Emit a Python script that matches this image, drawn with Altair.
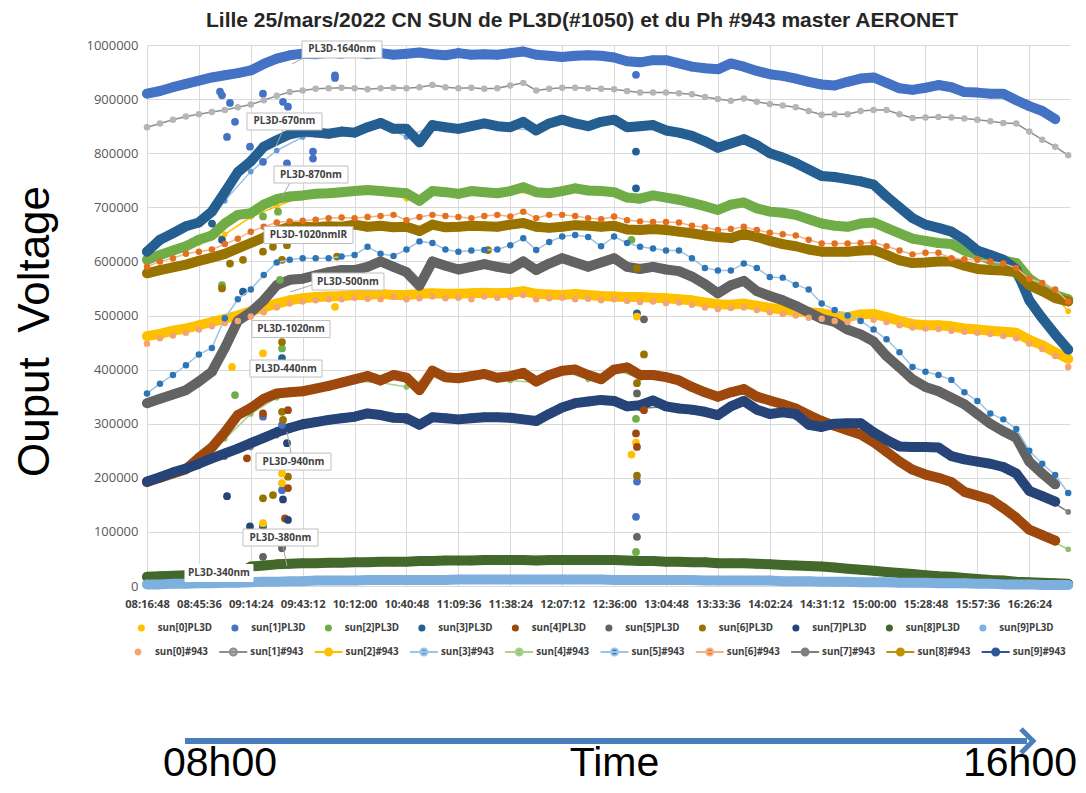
import altair as alt
import pandas as pd

FONT = "Open Sans"
FONT_BIG = "Liberation Sans"

TITLE = "Lille 25/mars/2022 CN SUN de PL3D(#1050) et du Ph #943 master AERONET"
Y_TITLE = "Ouput\u00a0\u00a0Voltage"

X_TICKS = ["08:16:48", "08:45:36", "09:14:24", "09:43:12", "10:12:00", "10:40:48",
           "11:09:36", "11:38:24", "12:07:12", "12:36:00", "13:04:48", "13:33:36",
           "14:02:24", "14:31:12", "15:00:00", "15:28:48", "15:57:36", "16:26:24"]
Y_TICKS = [0, 100000, 200000, 300000, 400000, 500000, 600000, 700000, 800000, 900000, 1000000]

TIMES = ["08:16:48", "08:24:00", "08:31:12", "08:38:24", "08:45:36", "08:52:48", "09:00:00", "09:07:12",
         "09:14:24", "09:21:36", "09:28:48", "09:36:00", "09:43:12", "09:50:24", "09:57:36", "10:04:48",
         "10:12:00", "10:19:12", "10:26:24", "10:33:36", "10:40:48", "10:48:00", "10:55:12", "11:02:24",
         "11:09:36", "11:16:48", "11:24:00", "11:31:12", "11:38:24", "11:45:36", "11:52:48", "12:00:00",
         "12:07:12", "12:14:24", "12:21:36", "12:28:48", "12:36:00", "12:43:12", "12:50:24", "12:57:36",
         "13:04:48", "13:12:00", "13:19:12", "13:26:24", "13:33:36", "13:40:48", "13:48:00", "13:55:12",
         "14:02:24", "14:09:36", "14:16:48", "14:24:00", "14:31:12", "14:38:24", "14:45:36", "14:52:48",
         "15:00:00", "15:07:12", "15:14:24", "15:21:36", "15:28:48", "15:36:00", "15:43:12", "15:50:24",
         "15:57:36", "16:04:48", "16:12:00", "16:19:12", "16:26:24", "16:33:36", "16:40:48", "16:48:00"]
TIMES_HALF = TIMES[0::2] + [TIMES[-1]]

PL3D_NAMES = ["sun[0]PL3D", "sun[1]PL3D", "sun[2]PL3D", "sun[3]PL3D", "sun[4]PL3D",
              "sun[5]PL3D", "sun[6]PL3D", "sun[7]PL3D", "sun[8]PL3D", "sun[9]PL3D"]
PL3D_COLORS = ["#FFC000", "#4472C4", "#70AD47", "#255E91", "#9E480E",
               "#636363", "#997300", "#264478", "#43682B", "#7EB0DF"]
S943_NAMES = ["sun[0]#943", "sun[1]#943", "sun[2]#943", "sun[3]#943", "sun[4]#943",
              "sun[5]#943", "sun[6]#943", "sun[7]#943", "sun[8]#943", "sun[9]#943"]
S943_FILL = ["#F4A46E", "#B5B5B5", "#FFC000", "#5B9BD5", "#8CC168",
             "#2E75B6", "#E2701F", "#7F7F7F", "#BF9000", "#2F5597"]
S943_STROKE = ["transparent", "#8E8E8E", "#FFC000", "#9DC3E6", "#A9D18E",
               "#9DC3E6", "#F4B183", "#7F7F7F", "#BF9000", "#2F5597"]

# values in thousands (Output voltage / 1000)
PL3D_0 = [462, 466, 472, 476, 482, 488, 494, 500, 508, 515, 522, 528, 532, 534, 535, 536,
          538, 538, 540, 538, 538, 540, 541, 540, 540, 541, 542, 541, 542, 545, 540, 539,
          538, 540, 538, 536, 535, 534, 534, 533, 532, 530, 528, 524, 521, 520, 522, 518,
          514, 511, 508, 506, 504, 500, 497, 502, 503, 497, 490, 484, 482, 482, 480, 476,
          474, 472, 470, 468, 455, 445, 432, 420]
PL3D_1 = [910, 915, 922, 928, 934, 940, 944, 948, 953, 965, 975, 981, 984, 983, 986, 984,
          987, 983, 985, 982, 984, 986, 983, 981, 985, 982, 983, 982, 985, 988, 982, 980,
          978, 980, 981, 980, 977, 970, 968, 972, 972, 966, 960, 957, 955, 966, 960, 952,
          946, 943, 938, 932, 927, 925, 932, 938, 940, 930, 920, 917, 921, 926, 922, 913,
          912, 910, 910, 898, 887, 878, 863, None]
PL3D_2 = [603, 612, 620, 628, 640, 648, 670, 686, 689, 705, 715, 720, 722, 725, 726, 728,
          730, 732, 730, 728, 726, 712, 730, 728, 725, 730, 728, 726, 730, 737, 728, 726,
          730, 735, 731, 730, 728, 718, 716, 722, 718, 714, 708, 702, 695, 705, 709, 698,
          692, 690, 686, 678, 670, 666, 664, 670, 672, 662, 652, 642, 638, 634, 632, 620,
          612, 603, 602, 597, 568, 552, 538, 530]
PL3D_3 = [618, 640, 652, 665, 672, 692, 728, 765, 785, 812, 824, 835, 840, 838, 836, 840,
          838, 848, 856, 845, 845, 820, 852, 848, 845, 850, 855, 850, 848, 858, 842, 855,
          862, 855, 850, 858, 862, 848, 850, 852, 842, 838, 832, 822, 810, 818, 826, 815,
          800, 792, 782, 770, 758, 756, 752, 748, 742, 720, 700, 680, 668, 662, 655, 640,
          620, 612, 603, 585, 528, 495, 465, 437]
PL3D_4 = [192, 200, 208, 216, 237, 256, 284, 316, 329, 346, 356, 358, 360, 365, 370, 376,
          382, 388, 380, 390, 385, 362, 398, 386, 384, 388, 392, 385, 388, 394, 378, 390,
          398, 400, 390, 382, 400, 404, 390, 390, 386, 380, 368, 358, 350, 358, 364, 350,
          343, 336, 328, 316, 305, 296, 288, 280, 266, 248, 230, 215, 206, 200, 192, 174,
          167, 160, 144, 126, 104, 94, 84, None]
PL3D_5 = [338, 346, 354, 362, 378, 396, 440, 490, 506, 528, 556, 566, 568, 574, 580, 584,
          584, 590, 600, 590, 580, 555, 600, 592, 585, 590, 595, 590, 586, 600, 584, 596,
          606, 598, 590, 598, 606, 590, 586, 590, 585, 582, 572, 558, 541, 556, 564, 545,
          536, 528, 518, 506, 494, 488, 474, 465, 452, 425, 404, 382, 368, 360, 348, 336,
          318, 300, 286, 274, 230, 208, 188, None]
PL3D_6 = [578, 584, 589, 594, 601, 607, 614, 624, 634, 644, 656, 664, 664, 663, 665, 664,
          668, 664, 666, 663, 664, 656, 668, 663, 664, 666, 665, 664, 668, 671, 664, 662,
          664, 667, 666, 664, 666, 659, 658, 660, 658, 655, 652, 648, 645, 643, 651, 645,
          638, 632, 628, 622, 618, 618, 618, 620, 621, 612, 602, 597, 598, 600, 600, 592,
          586, 584, 583, 580, 556, 545, 532, 526]
PL3D_7 = [193, 201, 210, 217, 226, 236, 245, 254, 264, 274, 284, 292, 299, 303, 307, 310,
          313, 319, 316, 311, 310, 298, 312, 310, 308, 310, 312, 312, 311, 308, 305, 318,
          330, 338, 341, 344, 342, 332, 334, 343, 332, 328, 326, 322, 316, 332, 342, 326,
          318, 321, 318, 298, 294, 300, 301, 301, 284, 270, 258, 257, 257, 256, 240, 234,
          230, 226, 220, 208, 176, 166, 156, None]
PL3D_8 = [17, 18, 19, 20, 21, 22, 22, 23, 36, 38, 40, 41, 42, 42, 43, 43,
          44, 44, 45, 45, 45, 46, 46, 47, 47, 47, 48, 48, 48, 48, 47, 48,
          48, 48, 48, 48, 48, 47, 46, 46, 45, 45, 44, 44, 42, 42, 42, 41,
          40, 39, 38, 37, 36, 34, 32, 30, 28, 26, 24, 22, 20, 18, 17, 15,
          13, 11, 10, 8, 7, 6, 5, 4]
PL3D_9 = [3, 3, 4, 4, 5, 5, 6, 6, 7, 8, 8, 9, 9, 10, 10, 10,
          10, 11, 11, 11, 11, 11, 11, 11, 12, 12, 12, 12, 12, 12, 12, 12,
          12, 12, 12, 12, 11, 11, 11, 11, 11, 11, 11, 10, 10, 10, 10, 10,
          10, 9, 9, 9, 8, 8, 8, 7, 7, 7, 6, 6, 6, 5, 5, 5,
          4, 4, 3, 3, 3, 2, 2, 2]
PL3D_VALUES = [PL3D_0, PL3D_1, PL3D_2, PL3D_3, PL3D_4, PL3D_5, PL3D_6, PL3D_7, PL3D_8, PL3D_9]

# #943 series on the full time grid
S943_0 = [448, 458, 463, 468, 474, 480, 486, 490, 498, 506, 515, 522, 526, 528, 530, 530,
          533, 531, 530, 534, 530, 532, 535, 532, 533, 530, 535, 533, 534, 538, 530, 532,
          533, 530, 531, 528, 530, 527, 525, 526, 523, 524, 520, 515, 512, 514, 515, 510,
          506, 503, 500, 496, 494, 490, 488, 492, 492, 488, 482, 478, 476, 475, 472, 470,
          468, 466, 462, 458, 448, 438, 425, 405]
S943_1 = [848, 855, 862, 868, 872, 876, 880, 885, 890, 898, 906, 913, 916, 919, 920, 921,
          920, 918, 920, 921, 920, 922, 926, 922, 920, 921, 919, 920, 925, 930, 916, 919,
          921, 921, 920, 919, 918, 915, 912, 912, 912, 911, 909, 904, 900, 897, 901, 895,
          891, 888, 885, 878, 871, 872, 872, 878, 880, 880, 872, 865, 866, 867, 866, 864,
          862, 859, 856, 855, 840, 825, 812, 796]
S943_5 = [356, 374, 390, 408, 428, 440, 495, 530, 548, 575, 598, 603, 606, 606, 606, 609,
          612, 627, 614, 610, 622, 637, 634, 622, 618, 620, 621, 622, 630, 643, 621, 636,
          646, 649, 645, 628, 646, 634, 627, 624, 620, 620, 606, 588, 583, 583, 596, 588,
          571, 570, 557, 548, 522, 510, 500, 490, 474, 456, 432, 405, 396, 390, 381, 358,
          342, 319, 308, 290, 250, 226, 205, 172]
S943_6 = [590, 600, 606, 614, 618, 622, 632, 642, 655, 664, 672, 674, 675, 677, 680, 681,
          680, 682, 684, 686, 676, 682, 686, 684, 682, 680, 684, 686, 683, 692, 680, 686,
          686, 684, 680, 678, 683, 676, 674, 673, 673, 672, 666, 663, 658, 660, 664, 658,
          653, 650, 648, 640, 633, 633, 633, 634, 635, 628, 620, 613, 616, 616, 606, 604,
          603, 600, 596, 588, 568, 560, 548, 526]
# #943 series lying under the PL3D bands (every second grid time)
S943_2 = [605, 618, 634, 650, 682, 702, 720, 724, 728, 728, 716, 728, 724, 726, 728, 726, 728,
          730, 726, 714, 716, 706, 693, 706, 690, 684, 668, 662, 670, 650, 636, 630, 610, 600,
          566, 536, 508]
S943_3 = [612, 648, 668, 712, 766, 805, 830, 834, 836, 852, 830, 850, 844, 852, 846, 842, 858,
          848, 858, 848, 840, 830, 808, 824, 798, 780, 756, 750, 740, 698, 666, 652, 618, 600,
          525, 462, 436]
S943_4 = [188, 208, 232, 272, 318, 348, 356, 366, 378, 376, 368, 390, 382, 390, 380, 376, 398,
          382, 400, 384, 384, 368, 346, 360, 340, 326, 302, 284, 268, 228, 202, 188, 166, 146,
          102, 80, 68]
S943_7 = [190, 205, 222, 238, 256, 278, 295, 304, 312, 318, 304, 310, 304, 310, 310, 304, 328,
          338, 342, 328, 332, 322, 314, 336, 318, 312, 294, 298, 288, 260, 256, 244, 230, 220,
          178, 152, 137]
S943_8 = [19, 21, 23, 24, 38, 42, 44, 45, 46, 47, 47, 48, 49, 50, 50, 49, 50,
          50, 50, 48, 47, 46, 44, 44, 42, 40, 38, 34, 30, 26, 22, 19, 15, 12,
          9, 7, 5]
S943_9 = [1, 2, 3, 4, 5, 6, 7, 8, 8, 9, 9, 9, 10, 10, 10, 10, 10,
          10, 10, 9, 9, 9, 8, 8, 8, 7, 7, 6, 6, 5, 4, 4, 3, 2,
          2, 1, 1]

# stray points (tracking glitches), per PL3D series: times and values (thousands)
OUTLIERS = {
    "sun[1]PL3D": (["08:57:18", "08:58:25", "09:02:51", "09:05:38", "09:01:12", "09:13:57", "09:21:10",
                    "09:32:16", "09:35:02", "09:21:10", "09:34:29", "09:48:55", "09:48:55", "10:01:07",
                    "10:01:07", "09:21:10", "09:31:43", "09:31:43", "12:48:09", "12:48:42", "12:48:09"],
                   [914, 907, 893, 858, 830, 812, 910, 895, 886, 784, 781, 803, 790, 944, 939, 313, 298,
                    177, 945, 193, 128]),
    "sun[3]PL3D": (["08:52:52", "08:58:25", "09:10:04", "09:31:43", "09:21:10", "12:48:09", "12:48:09",
                    "12:48:42"],
                   [670, 640, 544, 421, 110, 803, 735, 504]),
    "sun[2]PL3D": (["09:21:10", "09:29:29", "08:58:25", "09:30:36", "09:05:38", "09:31:43", "09:31:43",
                    "12:45:39", "12:48:09", "12:48:09"],
                   [683, 692, 556, 566, 353, 439, 73, 640, 309, 63]),
    "sun[6]PL3D": (["08:58:25", "09:02:51", "09:10:04", "09:21:10", "09:26:43", "09:31:43", "09:34:29",
                    "10:02:14", "11:26:01", "09:21:10", "09:26:43", "09:31:43", "09:32:16", "09:35:02",
                    "09:31:43", "12:48:42", "12:52:35", "12:48:42", "12:48:42"],
                   [550, 596, 603, 618, 627, 603, 630, 609, 621, 162, 168, 322, 307, 202, 451, 587, 428,
                    204, 375]),
    "sun[0]PL3D": (["10:01:07", "09:03:58", "09:21:10", "09:31:43", "09:31:43", "09:21:10", "12:48:42",
                    "12:48:09", "12:45:39"],
                   [516, 405, 430, 208, 190, 116, 498, 265, 243]),
    "sun[4]PL3D": (["09:12:17", "09:21:10", "09:35:02", "09:35:02", "09:33:23", "12:48:09", "12:48:42",
                    "12:52:35"],
                   [236, 319, 325, 181, 125, 282, 257, 325]),
    "sun[7]PL3D": (["09:01:12", "09:13:57", "09:32:16", "09:35:02", "09:34:29"],
                   [166, 110, 160, 122, 264]),
    "sun[5]PL3D": (["09:21:10", "09:31:43", "12:52:35", "12:48:42", "12:48:42"],
                   [54, 70, 493, 356, 91]),
}

# callout labels (anchored in data coordinates)
ANN_LABELS = ["PL3D-1640nm", "PL3D-670nm", "PL3D-870nm", "PL3D-1020nmIR", "PL3D-500nm",
              "PL3D-1020nm", "PL3D-440nm", "PL3D-940nm", "PL3D-380nm", "PL3D-340nm"]
ANN_TIMES = ["10:05:00", "09:33:06", "09:47:48", "09:46:25", "10:08:20",
             "09:36:42", "09:33:56", "09:38:06", "09:30:53", "08:56:45"]
ANN_VALUES = [991700, 858600, 760600, 648800, 562800, 475000, 402000, 230000, 89600, 24000]
ANN_BOX_W = [80, 75, 74, 89, 72, 78, 72, 75, 75, 68]
ANN_BOX_STROKE = ["#BFBFBF"] * 9 + ["#FFFFFF"]

LEAD_T1 = ["09:44:28", "09:32:16", "09:36:09", "09:48:22", "09:36:42", "09:32:16"]
LEAD_V1 = [977800, 842900, 744900, 556400, 245800, 73900]
LEAD_T2 = ["09:37:16", "09:28:23", "09:31:43", "09:36:09", "09:34:29", "09:34:29"]
LEAD_V2 = [964900, 813300, 719000, 543400, 284700, 37000]


def secs(hms):
    h, m, s = hms.split(":")
    return int(h) * 3600 + int(m) * 60 + int(s)


def frame(names, lists, times):
    rows = []
    for name, vals in zip(names, lists):
        for hms, v in zip(times, vals):
            if v is not None:
                rows.append({"series": name, "t": secs(hms), "v": v * 1000})
    return pd.DataFrame(rows)


XS = alt.Scale(domain=[29808, 60540], nice=False, zero=False)
YS = alt.Scale(domain=[0, 1000000], nice=False)

X_AXIS = alt.Axis(values=[secs(t) for t in X_TICKS],
                  labelExpr="utcFormat(datum.value * 1000, '%H:%M:%S')",
                  grid=True, gridColor="#D9D9D9", domainColor="#D9D9D9", ticks=False,
                  labelFont=FONT, labelFontSize=11.2, labelFontWeight="bold", labelColor="#404040",
                  labelPadding=12, labelOverlap=False, labelFlush=False, title=None)
Y_AXIS = alt.Axis(values=Y_TICKS, format="d", grid=True, gridColor="#D9D9D9", domain=False,
                  ticks=False, labelFont=FONT, labelFontSize=13, labelColor="#595959",
                  labelPadding=9, title=Y_TITLE, titleFont=FONT_BIG, titleFontSize=44,
                  titleFontWeight="normal", titleColor="#000000", titleX=-99, titleY=286,
                  titleAngle=270, titleAlign="center", titleBaseline="alphabetic")

X = alt.X("t:Q", scale=XS, axis=X_AXIS)
Y = alt.Y("v:Q", scale=YS, axis=Y_AXIS)

LEG1 = alt.Legend(title=None, orient="none", legendX=-10.5, legendY=578, direction="horizontal",
                  columns=10, gridAlign="all", columnPadding=17.5, rowPadding=0, padding=0,
                  symbolType="circle", symbolSize=50, symbolStrokeWidth=0, symbolOpacity=1,
                  labelFont=FONT, labelFontSize=9.8, labelFontWeight="bold",
                  labelColor="#404040", labelOffset=11.4, labelLimit=200)
LEG2 = alt.Legend(title=None, orient="none", legendX=-24, legendY=591.7, direction="horizontal",
                  columns=10, gridAlign="all", columnPadding=7.3, rowPadding=0, padding=0,
                  symbolType="M-1,0L1,0M-0.25,0A0.25,0.25,0,1,0,0.25,0A0.25,0.25,0,1,0,-0.25,0",
                  symbolSize=784, symbolStrokeWidth=2, symbolOpacity=1,
                  labelFont=FONT, labelFontSize=9.8, labelFontWeight="bold",
                  labelColor="#404040", labelOffset=2, labelLimit=200)

C1 = alt.Color("series:N", scale=alt.Scale(domain=PL3D_NAMES, range=PL3D_COLORS), legend=LEG1)
F2 = alt.Fill("series:N", scale=alt.Scale(domain=S943_NAMES, range=S943_FILL), legend=LEG2)
S2 = alt.Stroke("series:N", scale=alt.Scale(domain=S943_NAMES, range=S943_STROKE), legend=LEG2)

layers = []

# #943 series hidden beneath the PL3D bands
hid = frame(["sun[2]#943", "sun[3]#943", "sun[4]#943", "sun[7]#943", "sun[8]#943", "sun[9]#943"],
            [S943_2, S943_3, S943_4, S943_7, S943_8, S943_9], TIMES_HALF)
layers.append(alt.Chart(hid).mark_line(strokeWidth=1.5).encode(x=X, y=Y, stroke=S2))
layers.append(alt.Chart(hid).mark_circle(size=32, opacity=1).encode(x=X, y=Y, fill=F2))

# PL3D bands
for name, vals in zip(PL3D_NAMES, PL3D_VALUES):
    d = frame([name], [vals], TIMES)
    layers.append(alt.Chart(d).mark_line(strokeWidth=10, strokeCap="round", strokeJoin="round")
                  .encode(x=X, y=Y, color=C1))
    layers.append(alt.Chart(d).mark_circle(size=90, opacity=1).encode(x=X, y=Y, color=C1))

# stray points
out_rows = []
for name, (ts, vs) in OUTLIERS.items():
    for hms, v in zip(ts, vs):
        out_rows.append({"series": name, "t": secs(hms), "v": v * 1000})
outliers = pd.DataFrame(out_rows)
layers.append(alt.Chart(outliers).mark_circle(size=60, opacity=1).encode(x=X, y=Y, color=C1))

# visible #943 series
vis_line = frame(["sun[1]#943", "sun[5]#943", "sun[6]#943"], [S943_1, S943_5, S943_6], TIMES)
layers.append(alt.Chart(vis_line).mark_line(strokeWidth=1.5).encode(x=X, y=Y, stroke=S2))
vis_dot = frame(["sun[0]#943", "sun[1]#943", "sun[5]#943", "sun[6]#943"],
                [S943_0, S943_1, S943_5, S943_6], TIMES)
layers.append(alt.Chart(vis_dot).mark_circle(size=42, opacity=1).encode(x=X, y=Y, fill=F2))

# callouts
lead = pd.DataFrame({"t": [secs(t) for t in LEAD_T1], "v": LEAD_V1,
                     "t2": [secs(t) for t in LEAD_T2], "v2": LEAD_V2})
layers.append(alt.Chart(lead).mark_rule(color="#A6A6A6", strokeWidth=1)
              .encode(x=X, y=Y, x2="t2:Q", y2="v2:Q"))
ann = pd.DataFrame({"label": ANN_LABELS, "t": [secs(t) for t in ANN_TIMES], "v": ANN_VALUES})
for i in range(len(ANN_LABELS)):
    w = ANN_BOX_W[i]
    h = 17.0 / w
    path = f"M-1,{-h:.4f}L1,{-h:.4f}L1,{h:.4f}L-1,{h:.4f}Z"
    layers.append(alt.Chart(ann.iloc[[i]]).mark_point(shape=path, size=w * w, filled=True,
                                                       fill="#FFFFFF", stroke=ANN_BOX_STROKE[i],
                                                       strokeWidth=1, opacity=1)
                  .encode(x=X, y=Y))
layers.append(alt.Chart(ann).mark_text(font=FONT, fontSize=10, fontWeight="bold", color="#404040")
              .encode(x=X, y=Y, text="label:N"))

# title and decorations outside the plot
one = pd.DataFrame({"k": [0]})
layers.append(alt.Chart(one).mark_text(text=TITLE, font=FONT_BIG, fontSize=21, fontWeight="bold",
                                       color="#262626", align="center", baseline="alphabetic")
              .encode(x=alt.value(435), y=alt.value(-17.6)))
layers.append(alt.Chart(one).mark_rule(color="#4A7EBB", strokeWidth=6)
              .encode(x=alt.value(38), x2=alt.value(880), y=alt.value(696)))
layers.append(alt.Chart(one).mark_point(shape="M-1,-1L0,0L-1,1", filled=False, color="#4A7EBB",
                                        strokeWidth=5, size=576, opacity=1)
              .encode(x=alt.value(886), y=alt.value(696)))
for txt, xpos, al in [("08h00", 73, "center"), ("Time", 467.5, "center"), ("16h00", 930, "right")]:
    layers.append(alt.Chart(one).mark_text(text=txt, font=FONT_BIG, fontSize=41, color="#000000",
                                           align=al, baseline="alphabetic")
                  .encode(x=alt.value(xpos), y=alt.value(730.5)))

chart = alt.layer(*layers).properties(
    width=923, height=541,
    padding={"left": 139, "top": 37, "right": 8, "bottom": 199},
    autosize=alt.AutoSizeParams(type="none"),
).configure_view(stroke=None)

chart.save("out.html", embed_options={"renderer": "svg", "actions": False})
